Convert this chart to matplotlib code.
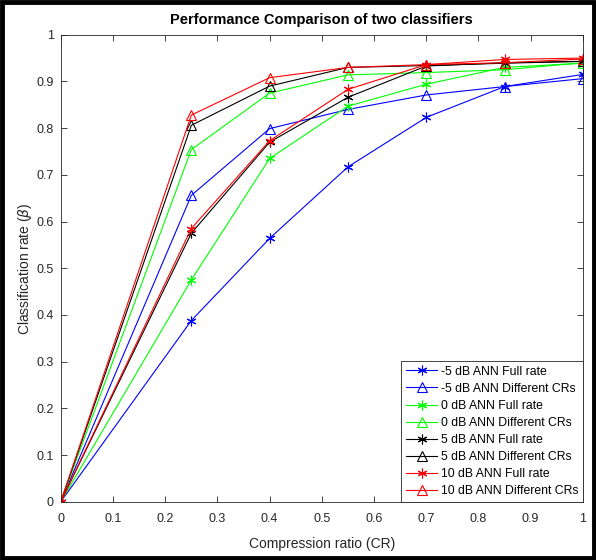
import numpy as np
import matplotlib
matplotlib.use("Agg")
import matplotlib.pyplot as plt
from matplotlib.patches import Rectangle
from matplotlib.ticker import FuncFormatter

plt.rcParams['font.family'] = ['Liberation Sans', 'DejaVu Sans']
plt.rcParams['mathtext.fontset'] = 'dejavusans'

# compression ratios and classification rates
cr = [0, 0.25, 0.4, 0.55, 0.7, 0.85, 1]
m5_full = [0, 0.388, 0.564, 0.717, 0.823, 0.889, 0.915]
m5_diff = [0, 0.656, 0.799, 0.840, 0.871, 0.889, 0.906]
z0_full = [0, 0.475, 0.735, 0.847, 0.894, 0.930, 0.939]
z0_diff = [0, 0.754, 0.875, 0.914, 0.919, 0.925, 0.940]
p5_full = [0, 0.575, 0.770, 0.866, 0.933, 0.940, 0.943]
p5_diff = [0, 0.806, 0.890, 0.930, 0.934, 0.939, 0.943]
p10_full = [0, 0.585, 0.773, 0.883, 0.936, 0.947, 0.950]
p10_diff = [0, 0.828, 0.908, 0.930, 0.936, 0.940, 0.948]

series = [
    (m5_full, 'b', 'full', '-5 dB ANN Full rate'),
    (m5_diff, 'b', 'diff', '-5 dB ANN Different CRs'),
    (z0_full, 'g', 'full', '0 dB ANN Full rate'),
    (z0_diff, 'g', 'diff', '0 dB ANN Different CRs'),
    (p5_full, 'k', 'full', '5 dB ANN Full rate'),
    (p5_diff, 'k', 'diff', '5 dB ANN Different CRs'),
    (p10_full, 'r', 'full', '10 dB ANN Full rate'),
    (p10_diff, 'r', 'diff', '10 dB ANN Different CRs'),
]
colors = {'b': (0, 0, 1), 'g': (0, 1, 0), 'k': (0, 0, 0), 'r': (1, 0, 0)}

fig = plt.figure(figsize=(5.96, 5.6), dpi=100)
ax = fig.add_axes([0.102, 0.104, 0.876, 0.834])

for vals, c, kind, lab in series:
    if kind == 'full':
        ax.plot(cr, vals, color=colors[c], lw=0.8, marker=(6, 2, 0), ms=7,
                mew=0.8, label=lab)
    else:
        ax.plot(cr, vals, color=colors[c], lw=0.8, marker='^', ms=7,
                mfc='none', mew=0.8, label=lab)

ax.set_xlim(0, 1)
ax.set_ylim(0, 1)
ax.set_xticks(np.arange(0, 1.01, 0.1))
ax.set_yticks(np.arange(0, 1.01, 0.1))
fmt = FuncFormatter(lambda v, p: '%g' % round(v, 2))
ax.xaxis.set_major_formatter(fmt)
ax.yaxis.set_major_formatter(fmt)
ax.tick_params(direction='in', length=4, width=0.6, top=True, right=True,
               labelsize=9, colors='#262626', pad=5)
ax.tick_params(axis='x', pad=8)
for s in ax.spines.values():
    s.set_color('#262626')
    s.set_linewidth(0.6)

ax.set_title('Performance Comparison of two classifiers', fontsize=10.5,
             fontweight='bold', pad=8)
ax.set_xlabel('Compression ratio (CR)', fontsize=10, color='#262626', labelpad=9)
ax.set_ylabel(r'Classification rate ($\beta$)', fontsize=10, color='#262626',
              labelpad=2)

leg = ax.legend(loc='lower right', borderaxespad=0, fontsize=8.8,
                fancybox=False, edgecolor='#262626', framealpha=1,
                handlelength=2.6, labelspacing=0.42, handletextpad=0.3,
                borderpad=0.35)
leg.get_frame().set_linewidth(0.6)

# outer frame around the whole figure
fig.patches.append(Rectangle((0.003, 0.003), 0.994, 0.994, transform=fig.transFigure,
                             fill=False, edgecolor='black', lw=3.5))

fig.savefig('out.png', dpi=100)
